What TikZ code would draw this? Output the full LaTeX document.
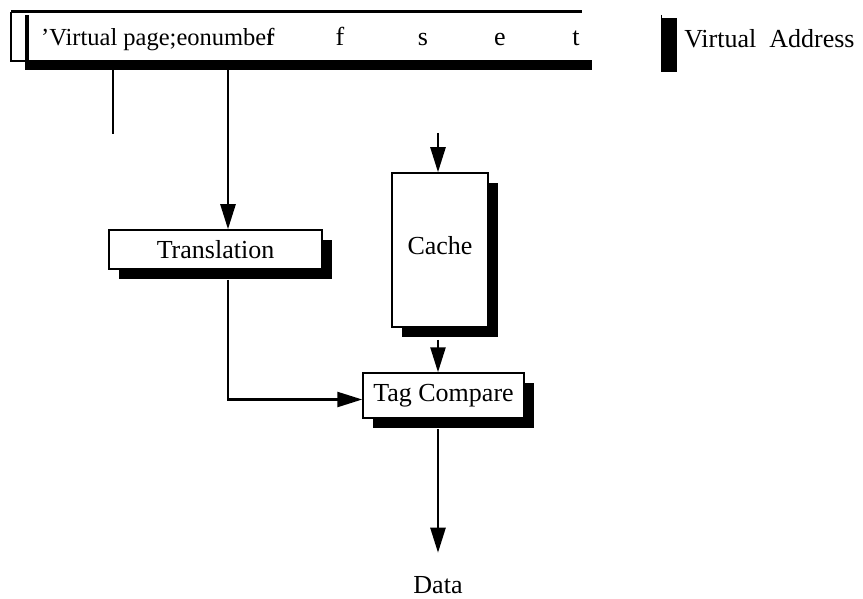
\documentclass[tikz,border=0pt]{standalone}
\usepackage{fontspec}
\setmainfont{Liberation Serif}
\usetikzlibrary{arrows.meta,shadows}

\begin{document}
\begin{tikzpicture}[x=1pt,y=-1pt,line width=2.5pt,>={Triangle[length=25pt,width=15pt]}]
\tikzstyle{every node}=[inner sep=0pt,font=\fontsize{26}{30}\selectfont]
\tikzstyle{box}=[draw,line width=1.5pt,fill=white,rectangle,
  drop shadow={shadow xshift=10pt,shadow yshift=-10pt,fill=black,opacity=1}]
\useasboundingbox (0,0) rectangle (863,599);
\fill (25,60) rectangle (592,70);
\fill (25,15) rectangle (29,70);
\draw[line width=3pt] (11,12) -- (582,12);
\draw[line width=1.5pt] (11,12) -- (11,61) -- (25,61);
\draw (40,46) node (vpn) [anchor=base west,font=\fontsize{24.5}{30}\selectfont] {'Virtual page;eonumbe\rlap{r}f};
\draw (340,46) node (off1) [anchor=base] {f};
\draw (423,46) node (off2) [anchor=base] {s};
\draw (500,46) node (off3) [anchor=base] {e};
\draw (576,46) node (off4) [anchor=base] {t};
\fill (661,18) rectangle (677,72);
\draw[line width=1pt] (661,15) -- (661,72);
\draw (683,48) node (va) [anchor=base west] {Virtual\ \ Address};
\coordinate (vpn1) at (113,70);
\coordinate (vpn1e) at (113,134);
\coordinate (vpn2) at (228,70);
\coordinate (cin) at (438,133);
\draw (215.5,249.5) node (tr) [box,minimum width=213pt,minimum height=39pt] {Translation};
\draw (440,250) node (cache) [box,minimum width=96pt,minimum height=154pt] {\raisebox{10pt}{Cache}};
\draw (443.5,395.5) node (tag) [box,minimum width=161pt,minimum height=45pt] {Tag Compare};
\draw (438,593) node (data) [anchor=base] {Data};
\draw (vpn1) -- (vpn1e);
\draw[->] (vpn2) -- (tr.north -| vpn2);
\draw[->] (cin) -- (cache.north -| cin);
\draw[->] ([yshift=-12pt]cache.south -| cin) -- (tag.north -| cin);
\draw[->] ([yshift=-10pt]tr.south -| vpn2) |- ([yshift=-4pt]tag.west);
\draw[->] ([yshift=-10pt]tag.south -| cin) -- ([yshift=22pt]data.north);
\end{tikzpicture}
\end{document}
